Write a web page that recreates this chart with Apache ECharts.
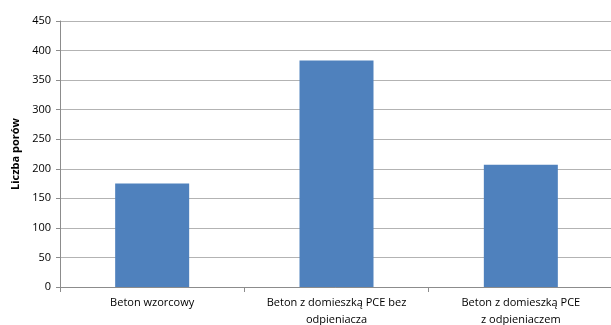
<!DOCTYPE html>
<html>
<head>
<meta charset="utf-8">
<script src="https://cdn.jsdelivr.net/npm/echarts@6/dist/echarts.min.js"></script>
<style>
  html, body { margin: 0; padding: 0; background: #fff; }
  #chart { width: 611px; height: 325px; }
</style>
</head>
<body>
<div id="chart"></div>
<script>
var categories = ['Beton wzorcowy', 'Beton z domieszką PCE bez\nodpieniacza', 'Beton z domieszką PCE\nz odpieniaczem'];
var values = [175, 383, 207];
var yTicks = [0, 50, 100, 150, 200, 250, 300, 350, 400, 450];

var chart = echarts.init(document.getElementById('chart'));

var option = {
	animation: false,
	grid: {
		left: 60,
		top: 21,
		width: 553,
		bottom: 38,
		outerBoundsMode: 'none'
	},
	xAxis: {
		type: 'category',
		data: categories,
		axisLine: { lineStyle: { color: '#8c8c8c' } },
		axisTick: { show: true, length: 5, lineStyle: { color: '#8c8c8c' } },
		axisLabel: {
			color: '#000',
			fontFamily: 'Open Sans',
			fontSize: 11,
			lineHeight: 17,
			margin: 7,
			interval: 0
		}
	},
	yAxis: {
		type: 'value',
		min: yTicks[0],
		max: yTicks[yTicks.length - 1],
		interval: 50,
		name: 'Liczba porów',
		nameLocation: 'middle',
		nameGap: 36,
		nameTextStyle: {
			fontFamily: 'Open Sans',
			fontWeight: 'bold',
			fontSize: 11,
			color: '#000'
		},
		axisLine: { show: true, lineStyle: { color: '#8c8c8c' } },
		axisTick: { show: true, length: 4, lineStyle: { color: '#8c8c8c' } },
		axisLabel: {
			color: '#000',
			fontFamily: 'Open Sans',
			fontSize: 11,
			margin: 9
		},
		splitLine: { lineStyle: { color: '#b3b3b3', width: 1 } }
	},
	series: [
		{
			type: 'bar',
			data: values,
			barWidth: 74,
			itemStyle: { color: '#4f81bd' }
		}
	]
};
chart.setOption(option);
</script>
</body>
</html>
